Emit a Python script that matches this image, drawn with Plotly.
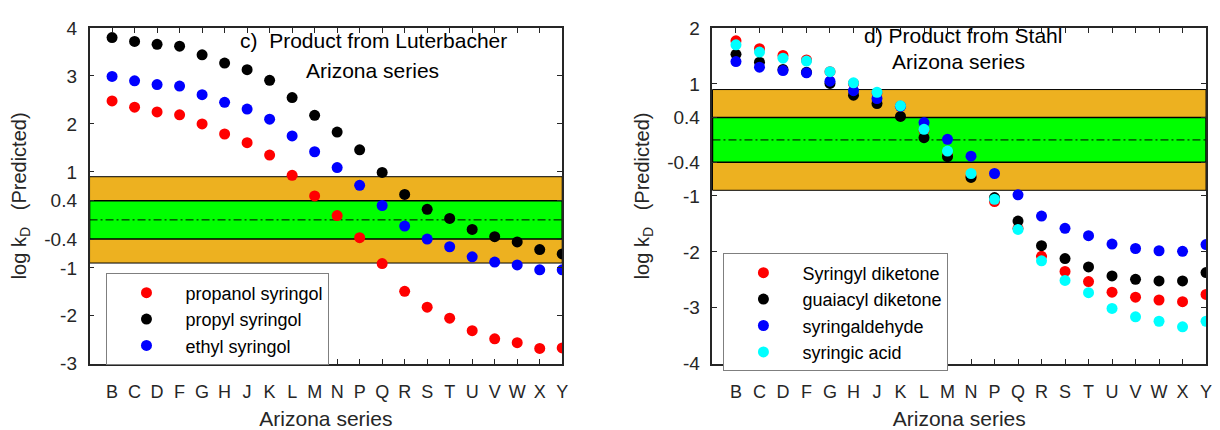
import plotly.graph_objects as go

# Arizona series samples (shared x categories)
samples = ["B", "C", "D", "F", "G", "H", "J", "K", "L", "M", "N",
           "P", "Q", "R", "S", "T", "U", "V", "W", "X", "Y"]

# Panel c) product from Luterbacher
propanol_syringol = [2.48, 2.35, 2.25, 2.19, 2.00, 1.79, 1.61, 1.35, 0.93, 0.50, 0.09,
                     -0.37, -0.91, -1.49, -1.82, -2.05, -2.31, -2.48, -2.56, -2.68, -2.67]
propyl_syringol = [3.80, 3.72, 3.66, 3.62, 3.44, 3.27, 3.13, 2.91, 2.55, 2.18, 1.83,
                   1.46, 0.99, 0.53, 0.22, 0.03, -0.20, -0.35, -0.46, -0.62, -0.71]
ethyl_syringol = [2.99, 2.90, 2.82, 2.79, 2.61, 2.45, 2.31, 2.10, 1.75, 1.42, 1.09,
                  0.72, 0.30, -0.13, -0.40, -0.56, -0.77, -0.88, -0.94, -1.04, -1.04]

# Panel d) product from Stahl
syringyl_diketone = [1.77, 1.63, 1.51, 1.43, 1.22, 1.01, 0.84, 0.60, 0.17, -0.28, -0.65,
                     -1.10, -1.58, -2.08, -2.35, -2.53, -2.72, -2.81, -2.86, -2.89, -2.76]
guaiacyl_diketone = [1.53, 1.39, 1.26, 1.21, 1.01, 0.80, 0.65, 0.42, 0.04, -0.30, -0.67,
                     -1.03, -1.45, -1.89, -2.12, -2.27, -2.43, -2.49, -2.52, -2.52, -2.37]
syringaldehyde = [1.40, 1.30, 1.24, 1.20, 1.05, 0.88, 0.74, 0.60, 0.31, 0.01, -0.29,
                  -0.60, -0.98, -1.36, -1.58, -1.71, -1.86, -1.94, -1.98, -1.99, -1.87]
syringic_acid = [1.70, 1.57, 1.46, 1.41, 1.22, 1.02, 0.85, 0.61, 0.19, -0.20, -0.60,
                 -1.06, -1.60, -2.16, -2.51, -2.73, -3.01, -3.16, -3.24, -3.34, -3.24]

# Applicability bands (log kD)
outer_band = [-0.9, 0.9]
inner_band = [-0.4, 0.4]

yticks_c = [-3, -2, -1, -0.4, 0.4, 1, 2, 3, 4]
yticks_d = [-4, -3, -2, -1, -0.4, 0.4, 1, 2]

FONT = "Liberation Sans, Arial, sans-serif"
INK = "#262626"
ORANGE = "#EDB120"
GREEN = "#00FF00"

fig = go.Figure()

panel_c = [("propanol syringol", propanol_syringol, "#FF0000"),
           ("propyl syringol", propyl_syringol, "#000000"),
           ("ethyl syringol", ethyl_syringol, "#0000FF")]
panel_d = [("Syringyl diketone", syringyl_diketone, "#FF0000"),
           ("guaiacyl diketone", guaiacyl_diketone, "#000000"),
           ("syringaldehyde", syringaldehyde, "#0000FF"),
           ("syringic acid", syringic_acid, "#00FFFF")]

for name, vals, col in panel_c:
    fig.add_trace(go.Scatter(x=samples, y=vals, mode="markers", name=name,
                             marker=dict(color=col, size=11, line=dict(width=0)),
                             xaxis="x", yaxis="y", legend="legend"))
for name, vals, col in panel_d:
    fig.add_trace(go.Scatter(x=samples, y=vals, mode="markers", name=name,
                             marker=dict(color=col, size=11, line=dict(width=0)),
                             xaxis="x2", yaxis="y2", legend="legend2"))

shapes = []
for xr, yr in (("x domain", "y"), ("x2 domain", "y2")):
    shapes.append(dict(type="rect", xref=xr, yref=yr, x0=0, x1=1,
                       y0=outer_band[0], y1=outer_band[1], fillcolor=ORANGE,
                       line=dict(color="#000000", width=1), layer="below"))
    shapes.append(dict(type="rect", xref=xr, yref=yr, x0=0, x1=1,
                       y0=inner_band[0], y1=inner_band[1], fillcolor=GREEN,
                       line=dict(color="#000000", width=1.5), layer="below"))
    shapes.append(dict(type="line", xref=xr, yref=yr, x0=0, x1=1, y0=0, y1=0,
                       line=dict(color="#000000", width=1, dash="8px,3px,2px,3px"),
                       layer="below"))


def xaxis(domain):
    return dict(domain=domain, type="category", categoryorder="array",
                categoryarray=samples, range=[-1, 20],
                tickmode="array", tickvals=samples, ticktext=samples,
                ticks="inside", ticklen=5,
                tickcolor=INK, showline=True, linecolor=INK, linewidth=1.5,
                mirror="ticks", showgrid=False, zeroline=False,
                ticklabelstandoff=11, tickangle=0,
                tickfont=dict(family=FONT, size=18, color=INK),
                title=dict(text="Arizona series", standoff=10,
                           font=dict(family=FONT, size=21, color=INK)))


def yaxis(rng, ticks, anchor):
    return dict(domain=[0.135, 0.956], range=rng, tickvals=ticks,
                ticktext=[f"{t:g}" for t in ticks], ticks="inside", ticklen=5,
                tickcolor=INK, showline=True, linecolor=INK, linewidth=1.5,
                mirror="ticks", showgrid=False, zeroline=False, anchor=anchor,
                ticklabelstandoff=7,
                tickfont=dict(family=FONT, size=19, color=INK),
                title=dict(text="log k<sub>D</sub>   (Predicted)", standoff=12,
                           font=dict(family=FONT, size=20, color=INK)))


legend_style = dict(bgcolor="white", bordercolor="#7f7f7f", borderwidth=1,
                    font=dict(family=FONT, size=18, color="#000000"),
                    itemwidth=68, tracegroupgap=0, xanchor="left", yanchor="top",
                    xref="paper", yref="paper")

title_font = dict(family=FONT, size=21, color="#000000")

fig.update_layout(
    width=1220, height=430, margin=dict(l=0, r=0, t=0, b=0),
    plot_bgcolor="white", paper_bgcolor="white",
    font=dict(family=FONT, color=INK),
    xaxis=xaxis([90 / 1220, 565 / 1220]),
    yaxis=yaxis([-3, 4], yticks_c, "x"),
    xaxis2=xaxis([716 / 1220, 1212 / 1220]),
    yaxis2=yaxis([-4, 2], yticks_d, "x2"),
    shapes=shapes,
    legend=dict(x=107 / 1220, y=1 - 277 / 430, **legend_style),
    legend2=dict(x=727 / 1220, y=1 - 256 / 430, **legend_style),
    annotations=[
        dict(text="c)  Product from Luterbacher", x=239 / 1220, y=1 - 32 / 430,
             xref="paper", yref="paper", xanchor="left", yanchor="middle",
             showarrow=False, font=title_font),
        dict(text="Arizona series", x=305 / 1220, y=1 - 64 / 430,
             xref="paper", yref="paper", xanchor="left", yanchor="middle",
             showarrow=False, font=title_font),
        dict(text="d) Product from Stahl", x=866 / 1220, y=1 - 27 / 430,
             xref="paper", yref="paper", xanchor="left", yanchor="middle",
             showarrow=False, font=title_font),
        dict(text="Arizona series", x=894 / 1220, y=1 - 54 / 430,
             xref="paper", yref="paper", xanchor="left", yanchor="middle",
             showarrow=False, font=title_font),
    ],
)

fig.write_html("out.html")
